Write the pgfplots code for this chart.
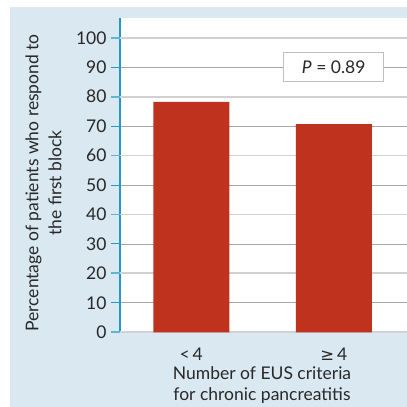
\documentclass[border=0pt]{standalone}
\usepackage{pgfplots}
\pgfplotsset{compat=1.18}
\usepackage{fontspec}
\setmainfont{Lato}
\newfontfamily\symfont{DejaVu Sans}
\definecolor{panel}{RGB}{217,232,241}
\definecolor{axblue}{RGB}{35,150,205}
\definecolor{axlight}{RGB}{95,180,215}
\definecolor{barred}{RGB}{190,50,30}
\definecolor{txt}{RGB}{40,40,40}
\newcommand\chartfont{\fontsize{17.5bp}{21bp}\selectfont\color{txt}}
\begin{document}
\begin{tikzpicture}[x=1bp,y=1bp]
\useasboundingbox (0,0) rectangle (407,407);
\fill[panel] (10,0) rectangle (407,400);
\begin{axis}[
    at={(120bp,74.7bp)}, anchor=south west,
    scale only axis,
    width=287bp, height=314.3bp,
    xmin=0, xmax=2.014,
    ymin=0, ymax=106.7,
    axis background/.style={fill=white},
    axis x line*=bottom, axis y line*=left,
    axis line style={axblue, line width=1.2bp, -},
    tick label style={font=\chartfont},
    /pgf/number format/assume math mode=true,
    ytick={10,30,50,70,90},
    yticklabels={10,30,50,70,90},
    extra y ticks={0,20,40,60,80,100},
    extra y tick labels={0,20,40,60,80,100},
    extra y tick style={
        grid style={line width=1.8bp, color=black!18},
        major tick style={axlight, line width=1.8bp}},
    ymajorgrids=true,
    grid style={line width=0.8bp, color=black!35},
    major tick style={axblue, line width=1bp},
    tick align=outside,
    major tick length=9bp,
    yticklabel style={xshift=-1bp},
    xtick={0.5,1.5},
    xticklabels={<\,4, {\symfont\fontsize{16.5bp}{18bp}\selectfont ≥}\,4},
    xtick style={draw=none},
    xticklabel style={yshift=-3bp},
    minor xtick={0,1,2},
    minor tick length=9bp,
    minor x tick style={axblue, line width=1bp},
    ybar, bar width=76bp,
]
\addplot[fill=barred, draw=none] coordinates {(0.5,78.2) (1.5,70.7)};
\node[draw=black!25, line width=1bp, fill=white, minimum width=100bp, minimum height=29bp,
      font=\chartfont]
      at (axis cs:1.5,90) {\textit{P} = 0.89};
\end{axis}
\node[rotate=90, align=center, text=txt, font=\fontsize{17.5bp}{23bp}\selectfont]
    at (43.5,224) {Percentage of patients who respond to\\the first block};
\node[align=center, text=txt, font=\fontsize{17.5bp}{21bp}\selectfont]
    at (262,21.5) {Number of EUS criteria\\for chronic pancreatitis};
\end{tikzpicture}
\end{document}
